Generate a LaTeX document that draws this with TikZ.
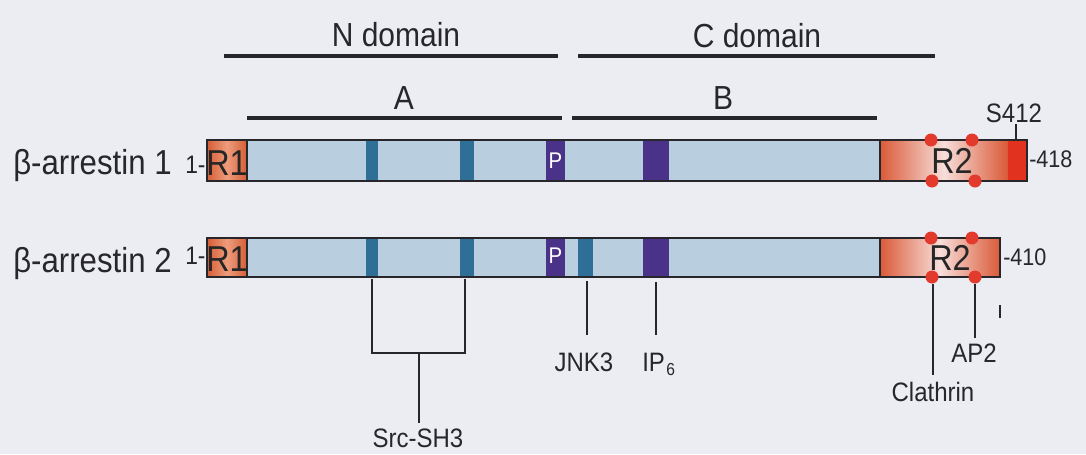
\documentclass[tikz,border=0pt]{standalone}
\usepackage{fontspec}
\setmainfont{Liberation Sans}[FakeStretch=0.9]
\definecolor{bgcol}{HTML}{ECECF3}
\definecolor{inkgray}{HTML}{26262B}
\definecolor{bodyblue}{HTML}{B9CFE0}
\definecolor{tealband}{HTML}{2F6E96}
\definecolor{purpband}{HTML}{4A3288}
\definecolor{roneedge}{HTML}{D45E36}
\definecolor{ronemid}{HTML}{EE9C7C}
\definecolor{rtwoedge}{HTML}{DA5A38}
\definecolor{rtwomid}{HTML}{F7DEDA}
\definecolor{redend}{HTML}{E0321E}
\definecolor{dotred}{HTML}{E23A2C}
\tikzset{
  domline/.style={line width=2.6pt, draw=inkgray},
  barline/.style={line width=1.2pt, draw=inkgray},
  leader/.style={line width=1.2pt, draw=inkgray},
  bigtxt/.style={font=\fontsize{25}{30}\selectfont, text=inkgray, inner sep=0.75pt},
  nametxt/.style={font=\fontsize{26}{30}\selectfont, text=inkgray, inner sep=0.75pt, anchor=base west},
  regtxt/.style={font=\fontsize{27}{30}\selectfont, text=black!85, inner sep=0.75pt, anchor=base},
  ptxt/.style={font=\fontsize{17}{20}\selectfont, text=white, inner sep=0.75pt, anchor=base},
  endtxt/.style={font=\fontsize{18}{20}\selectfont, text=inkgray, inner sep=0.75pt, anchor=base west},
  lbltxt/.style={font=\fontsize{20}{24}\selectfont, text=inkgray, inner sep=0.75pt, anchor=base},
}
\begin{document}
\begin{tikzpicture}[x=0.75pt,y=0.75pt,yscale=-1,xscale=1]
%set diagram to 1086 x 454
\fill[bgcol] (0,0) rectangle (1086,454);
\useasboundingbox (0,0) rectangle (1086,454);

%Straight Lines: domains
\draw[domline] (224,56) -- (558,56);
\draw[domline] (578,56) -- (935,56);
\draw[domline] (247,118) -- (562,118);
\draw[domline] (572,118) -- (877,118);

% Text Node
\node[bigtxt, anchor=base] (ndom) at (396,46) {N domain};
% Text Node
\node[bigtxt, anchor=base] (cdom) at (757,47) {C domain};
% Text Node
\node[bigtxt, anchor=base] (sega) at (404,109) {A};
% Text Node
\node[bigtxt, anchor=base] (segb) at (723,109) {B};

%Shape: Rectangle (beta-arrestin 1)
\fill[bodyblue] (247,140) rectangle (880,181);
\fill[tealband] (366,140) rectangle (378,181);
\fill[tealband] (460,140) rectangle (474,181);
\fill[purpband] (546,140) rectangle (565,181);
\fill[purpband] (643,140) rectangle (669,181);
\shade[left color=roneedge, right color=roneedge, middle color=ronemid] (207,140) rectangle (247,181);
\shade[left color=rtwoedge, right color=rtwoedge, middle color=rtwomid] (880,140) rectangle (1008,181);
\fill[redend] (1008,140) rectangle (1027,181);
\draw[barline] (207,140) rectangle (1027,181);
\draw[barline] (247,140) -- (247,181);
\draw[barline] (880,140) -- (880,181);
%Shape: Circle
\fill[dotred] (931,140) circle (6.5);
\fill[dotred] (972,140) circle (6.5);
\fill[dotred] (932,181) circle (6.5);
\fill[dotred] (975,181) circle (6.5);

%Shape: Rectangle (beta-arrestin 2)
\fill[bodyblue] (247,238) rectangle (880,277);
\fill[tealband] (366,238) rectangle (378,277);
\fill[tealband] (460,238) rectangle (474,277);
\fill[purpband] (546,238) rectangle (565,277);
\fill[tealband] (578,238) rectangle (593,277);
\fill[purpband] (643,238) rectangle (669,277);
\shade[left color=roneedge, right color=roneedge, middle color=ronemid] (207,238) rectangle (247,277);
\shade[left color=rtwoedge, right color=rtwoedge, middle color=rtwomid] (880,238) rectangle (1000,277);
\draw[barline] (207,238) rectangle (1000,277);
\draw[barline] (247,238) -- (247,277);
\draw[barline] (880,238) -- (880,277);
%Shape: Circle
\fill[dotred] (931,238) circle (6.5);
\fill[dotred] (972,238) circle (6.5);
\fill[dotred] (932,277) circle (6.5);
\fill[dotred] (975,277) circle (6.5);

% Text Node
\node[nametxt] (arr1) at (12,174) {β-arrestin 1};
\node[nametxt, font=\fontsize{19}{22}\selectfont] (start1) at (184,173) {1-};
\node[regtxt] (ronea) at (227,175) {R1};
\node[ptxt] (pa) at (555.5,168) {P};
\node[regtxt] (rtwoa) at (952,173) {R2};
\node[endtxt] (end1) at (1028,167) {-418};
% Text Node
\node[nametxt] (arr2) at (12,272) {β-arrestin 2};
\node[nametxt, font=\fontsize{19}{22}\selectfont] (start2) at (184,264) {1-};
\node[regtxt] (roneb) at (227,271) {R1};
\node[ptxt] (pb) at (555.5,263) {P};
\node[regtxt] (rtwob) at (950,270) {R2};
\node[endtxt] (end2) at (1002,265) {-410};

% S412 site
\node[lbltxt] (site) at (1014,122) {S412};
\coordinate (sitetop) at (1016,124);
\coordinate (sitebar) at (1016,139);
\draw[leader] (sitetop) -- (sitebar);

% Src-SH3 bracket
\coordinate (sha) at (372,279);
\coordinate (shb) at (465,279);
\coordinate (shfork) at (419,353);
\coordinate (shend) at (419,423);
\draw[leader] (sha) |- (shfork) -| (shb);
\draw[leader] (shfork) -- (shend);
\node[lbltxt] (src) at (418,447) {Src-SH3};

% JNK3 and IP6
\coordinate (jnktop) at (587,281);
\coordinate (jnkend) at (587,335);
\draw[leader] (jnktop) -- (jnkend);
\node[lbltxt] (jnk) at (584,371) {JNK3};
\coordinate (iptop) at (656,282);
\coordinate (ipend) at (656,335);
\draw[leader] (iptop) -- (ipend);
\node[lbltxt, anchor=base west] (ipsix) at (641,371) {IP\textsubscript{\kern1pt\fontsize{13}{14}\selectfont 6}};

% Clathrin and AP2
\coordinate (clatop) at (933,284);
\coordinate (claend) at (933,375);
\draw[leader] (clatop) -- (claend);
\node[lbltxt] (cla) at (933,401) {Clathrin};
\coordinate (aptop) at (975,284);
\coordinate (apend) at (975,338);
\draw[leader] (aptop) -- (apend);
\node[lbltxt] (aptwo) at (974,362) {AP2};
\coordinate (ticka) at (1000,305);
\coordinate (tickb) at (1000,318);
\draw[leader] (ticka) -- (tickb);

\end{tikzpicture}
\end{document}
